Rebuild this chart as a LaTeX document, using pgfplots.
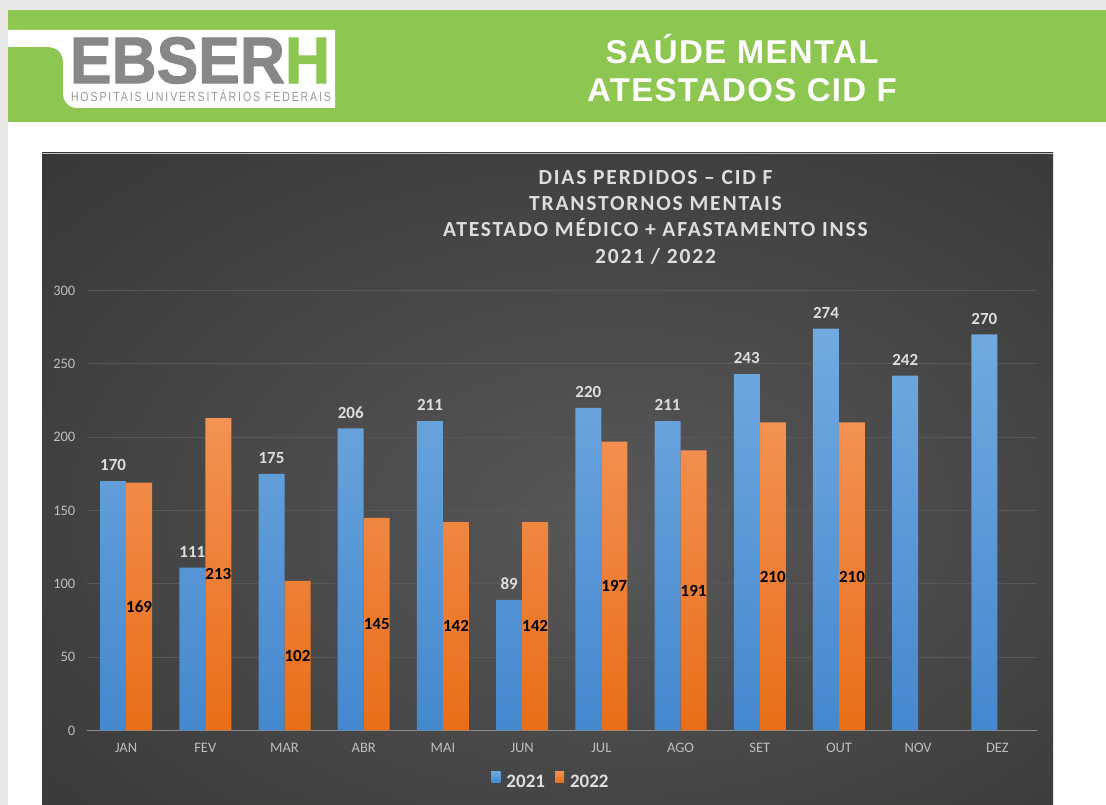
\documentclass[border=0pt]{standalone}
\usepackage{fontspec}
\setmainfont{Carlito}
\newfontfamily\headfont{Liberation Sans}
\newfontfamily\logofont[FakeBold=1.5]{Liberation Sans}
\newfontfamily\logosmall[LetterSpace=18]{Liberation Sans}
\newfontfamily\headtitle[LetterSpace=4]{Liberation Sans}
\newfontfamily\titlefont[LetterSpace=8.5]{Carlito}
\usepackage{graphicx}
\usepackage{pgfplots}
\pgfplotsset{compat=1.18}

\definecolor{pagegray}{RGB}{232,232,232}
\definecolor{ebgreen}{RGB}{141,198,80}
\definecolor{ebgray}{RGB}{135,135,135}
\definecolor{btop}{RGB}{114,170,224}
\definecolor{bbot}{RGB}{68,136,206}
\definecolor{bmid}{RGB}{91,155,213}
\definecolor{otop}{RGB}{243,146,84}
\definecolor{obot}{RGB}{232,110,24}
\definecolor{omid}{RGB}{237,125,49}
\definecolor{lbl}{RGB}{222,222,222}
\definecolor{tickc}{RGB}{190,190,190}
\definecolor{gridc}{RGB}{88,88,88}
\definecolor{axisc}{RGB}{140,140,140}
\definecolor{bgin}{RGB}{88,88,88}
\definecolor{bgmid}{RGB}{62,62,62}
\definecolor{bgout}{RGB}{30,30,30}
\pgfdeclareradialshading{chartbg}{\pgfpoint{4bp}{-4bp}}{color(0bp)=(bgin); color(30bp)=(bgmid); color(72bp)=(bgout)}

\begin{document}
\begin{tikzpicture}[x=1pt,y=1pt]
\path[use as bounding box] (0,0) rectangle (1106,805);
\fill[pagegray] (0,0) rectangle (1106,805);
\fill[white] (8,0) rectangle (1106,795);
\fill[ebgreen] (8,683) rectangle (1106,795);
% logo
\fill[white] (8,775) -- (335,775) -- (335,697) -- (78,697)
  .. controls (69,697) and (63,703) .. (63,712) -- (63,742)
  .. controls (63,753) and (57,758) .. (46,758) -- (8,758) -- cycle;
\node[anchor=south, inner sep=0pt, text=ebgray] at (200,721)
  {\resizebox{260pt}{46pt}{\logofont\bfseries EBSER\textcolor{ebgreen}{H}}};
\node[anchor=south, inner sep=0pt, text=ebgray!85!white] at (201,703)
  {\resizebox{260pt}{11.5pt}{\logosmall HOSPITAIS UNIVERSITÁRIOS FEDERAIS}};
% header title
\node[anchor=base, inner sep=0pt, text=white] at (742,741)
  {\headtitle\bfseries\fontsize{33}{36}\selectfont SAÚDE MENTAL};
\node[anchor=base, inner sep=0pt, text=white] at (742,703)
  {\headtitle\bfseries\fontsize{33}{36}\selectfont ATESTADOS CID F};
% chart background
\shade[shading=chartbg] (42,0) rectangle (1053,652);
\draw[white!75!black, line width=0.8pt] (42,652) -- (1053,652);
% chart title
\foreach \t/\yy in {{DIAS PERDIDOS – CID F}/620.5, {TRANSTORNOS MENTAIS}/594.5, {ATESTADO MÉDICO + AFASTAMENTO INSS}/568.5, {2021 / 2022}/541.5}{
  \node[anchor=base, inner sep=0pt, text=lbl] at (655.5,\yy)
    {\titlefont\bfseries\fontsize{21.5}{23}\selectfont \t};
}
\begin{axis}[
  at={(86.5pt,74.5pt)}, anchor=south west, scale only axis,
  width=950.5pt, height=440pt,
  xmin=-0.5, xmax=11.5, ymin=0, ymax=300,
  enlargelimits=false,
  ybar=0pt, bar width=26pt,
  axis x line*=bottom, axis y line*=left,
  x axis line style={axisc, line width=1.6pt, -},
  y axis line style={draw=none},
  major tick length=0pt,
  xtick={0,...,11},
  xticklabels={JAN,FEV,MAR,ABR,MAI,JUN,JUL,AGO,SET,OUT,NOV,DEZ},
  ytick={0,50,...,300},
  ymajorgrids, grid style={gridc, line width=0.8pt},
  /pgf/number format/assume math mode=true,
  tick label style={font=\fontsize{14.5}{16}\selectfont, text=tickc},
  yticklabel style={anchor=east, inner sep=0pt, xshift=-11pt},
  xticklabel style={anchor=base, inner sep=0pt, yshift=-22pt},
  legend style={at={(0.4887,-0.1148)}, anchor=center, draw=none, fill=none,
    legend columns=2, font=\bfseries\fontsize{19}{20}\selectfont, text=lbl,
    /tikz/every even column/.append style={column sep=8pt}},
]
\addplot[draw=none, top color=btop, bottom color=bbot,
  legend image code/.code={\fill[bmid] (0pt,0pt) rectangle (9pt,11pt); \path (0pt,0pt) -- (13pt,0pt);},
  nodes near coords,
  nodes near coords style={font=\bfseries\fontsize{17}{18}\selectfont, text=lbl, anchor=south, inner sep=0pt, yshift=10pt}]
  coordinates {(0,170) (1,111) (2,175) (3,206) (4,211) (5,89) (6,220) (7,211) (8,243) (9,274) (10,242) (11,270)};
\addlegendentry{2021}
\addplot[draw=none, top color=otop, bottom color=obot,
  legend image code/.code={\fill[omid] (0pt,0pt) rectangle (9pt,11pt); \path (0pt,0pt) -- (13pt,0pt);},
  visualization depends on={y \as \rawy},
  nodes near coords,
  nodes near coords style={font=\bfseries\fontsize{17}{18}\selectfont, text=black, anchor=center, inner sep=0pt, yshift={-0.733333*\rawy}}]
  coordinates {(0,169) (1,213) (2,102) (3,145) (4,142) (5,142) (6,197) (7,191) (8,210) (9,210)};
\addlegendentry{2022}
\end{axis}
\end{tikzpicture}
\end{document}
